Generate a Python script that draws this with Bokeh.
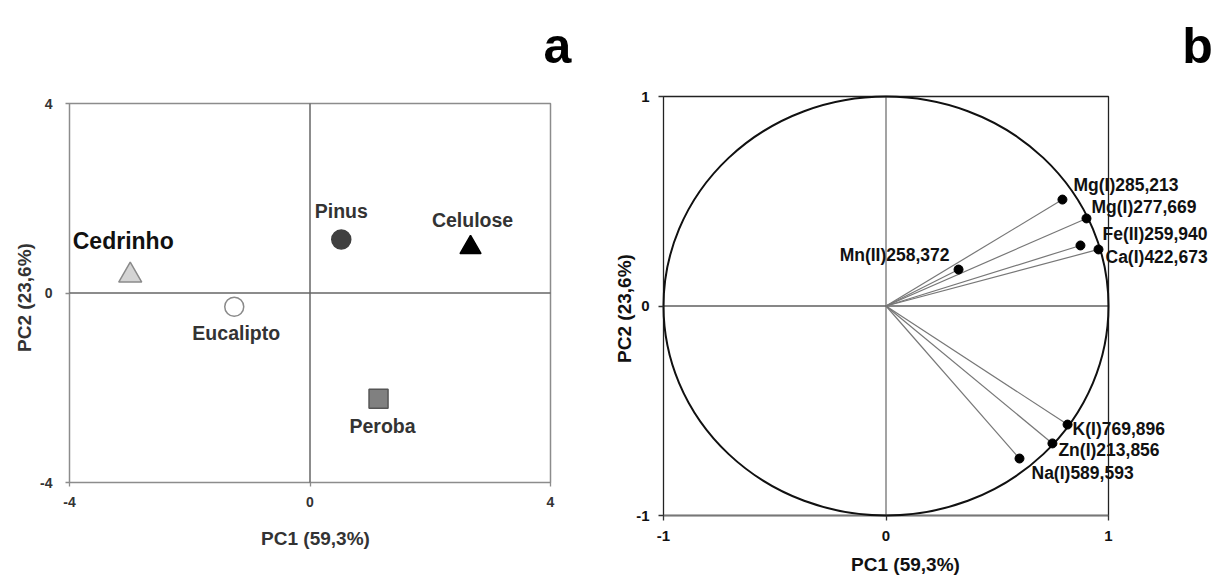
import math
from bokeh.plotting import figure
from bokeh.models import Range1d, FixedTicker, ColumnDataSource, PrintfTickFormatter
from bokeh.layouts import row
from bokeh.embed import file_html
from bokeh.resources import INLINE
from bokeh.core.properties import value

FONT = "Liberation Sans"

# ---------------- data: panel a (scores) ----------------
samples = ["Cedrinho", "Eucalipto", "Pinus", "Celulose", "Peroba"]
score_pc1 = [-2.99, -1.26, 0.52, 2.67, 1.14]
score_pc2 = [0.37, -0.29, 1.13, 0.96, -2.23]
a_ticks = [-4, 0, 4]

# ---------------- data: panel b (loadings) ----------------
variables = ["Mg(I)285,213", "Mg(I)277,669", "Fe(II)259,940", "Ca(I)422,673",
             "Mn(II)258,372", "K(I)769,896", "Zn(I)213,856", "Na(I)589,593"]
load_pc1 = [0.793, 0.901, 0.874, 0.955, 0.326, 0.816, 0.748, 0.600]
load_pc2 = [0.508, 0.418, 0.289, 0.270, 0.174, -0.566, -0.656, -0.728]
b_ticks = [-1, 0, 1]

xlab = "PC1 (59,3%)"
ylab = "PC2 (23,6%)"

# ---------------- styles / layout (not data) ----------------
H = 577
a_markers = ["triangle", "circle", "circle", "triangle", "square"]
a_fill = ["#d4d4d4", "#ffffff", "#404040", "#000000", "#808080"]
a_line = ["#8a8a8a", "#8a8a8a", "#404040", "#000000", "#555555"]
a_size = [23, 19, 19, 21, 19]
a_label_dx = [-7, 2, 0, 2, 4]
a_label_dy = [-34, 26, -28, -28, 27]
a_label_size = ["23px", "19.5px", "19.5px", "19.5px", "19.5px"]
a_label_color = ["#111111", "#333333", "#333333", "#333333", "#333333"]

b_label_dx = [11, 5, 22, 7, -9, 5, 6, 12]
b_label_dy = [-15, -11, -11, 8, -15, 4, 7, 14]
b_label_align = ["left", "left", "left", "left", "right", "left", "left", "left"]

# pixel geometry of the boxed plot areas (figure coordinates, y downward)
A_W, A_L, A_R, A_T, A_B = 608, 69, 550, 103, 482
B_W, B_L, B_R, B_T, B_B = 604, 55, 500, 96, 515


class Geo:
    def __init__(self, ticks, W, L, R, T, B):
        self.lo, self.hi = ticks[0], ticks[-1]
        self.L, self.B = L, B
        self.xpx = (R - L) / (self.hi - self.lo)
        self.ypx = (B - T) / (self.hi - self.lo)
        self.xr = Range1d(self.X(0), self.X(W))
        self.yr = Range1d(self.Y(H), self.Y(0))

    def X(self, px):
        return self.lo + (px - self.L) / self.xpx

    def Y(self, py):
        return self.lo + (self.B - py) / self.ypx


def make_fig(g, W, ticks, tick_size, tick_color, tick_line, tick_std_x, tick_std_y, tick_out):
    p = figure(width=W, height=H, x_range=g.xr, y_range=g.yr,
               output_backend="svg", toolbar_location=None,
               min_border_left=0, min_border_right=0, min_border_top=0, min_border_bottom=0)
    p.grid.visible = False
    p.outline_line_color = None
    for ax in (p.xaxis[0], p.yaxis[0]):
        ax.fixed_location = g.lo
        ax.ticker = FixedTicker(ticks=ticks)
        ax.formatter = PrintfTickFormatter(format="%d")
        ax.minor_tick_line_color = None
        ax.major_tick_in = 0
        ax.major_tick_out = tick_out
        ax.major_tick_line_color = tick_line
        ax.major_tick_line_width = 1.3
        ax.axis_line_color = None
        ax.major_label_text_font = FONT
        ax.major_label_text_font_style = "bold"
        ax.major_label_text_font_size = tick_size
        ax.major_label_text_color = tick_color
    p.xaxis[0].major_label_standoff = tick_std_x
    p.yaxis[0].major_label_standoff = tick_std_y
    return p


def axis_titles(p, g, color, xpos, ypos):
    p.text(x=[g.X(xpos[0])], y=[g.Y(xpos[1])], text=[xlab], text_font=value(FONT),
           text_font_style="bold", text_font_size="19px", text_color=color,
           text_align="center", text_baseline="middle")
    p.text(x=[g.X(ypos[0])], y=[g.Y(ypos[1])], text=[ylab], angle=math.pi / 2,
           text_font=value(FONT), text_font_style="bold", text_font_size="19px",
           text_color=color, text_align="center", text_baseline="middle")


# ---------------- panel a ----------------
ga = Geo(a_ticks, A_W, A_L, A_R, A_T, A_B)
pa = make_fig(ga, A_W, a_ticks, "14px", "#333333", "#8c8c8c", 10, 13, 4)
lo, hi = ga.lo, ga.hi
pa.quad(left=lo, right=hi, bottom=lo, top=hi, fill_color=None, line_color="#8c8c8c", line_width=1.5)
pa.segment(x0=[lo, 0], y0=[0, lo], x1=[hi, 0], y1=[0, hi], line_color="#666666", line_width=1.5)

src_a = ColumnDataSource(dict(x=score_pc1, y=score_pc2, name=samples, marker=a_markers,
                              fill=a_fill, line=a_line, size=a_size,
                              dx=a_label_dx, dy=a_label_dy, fs=a_label_size, tc=a_label_color))
pa.scatter(x="x", y="y", marker="marker", size="size", fill_color="fill", line_color="line",
           line_width=1.5, source=src_a)
pa.text(x="x", y="y", text="name", x_offset="dx", y_offset="dy", source=src_a,
        text_font=value(FONT), text_font_style="bold", text_font_size="fs",
        text_color="tc", text_align="center", text_baseline="middle")
axis_titles(pa, ga, "#333333", (315, 538), (24, 297))
pa.text(x=[ga.X(557)], y=[ga.Y(45)], text=["a"],
        text_font=value(FONT), text_font_style="bold", text_font_size="50px",
        text_color="#000000", text_align="center", text_baseline="alphabetic")

# ---------------- panel b ----------------
gb = Geo(b_ticks, B_W, B_L, B_R, B_T, B_B)
pb = make_fig(gb, B_W, b_ticks, "15px", "#111111", "#333333", 10, 9, 5)
lo, hi = gb.lo, gb.hi
pb.quad(left=lo, right=hi, bottom=lo, top=hi, fill_color=None, line_color="#222222", line_width=1.3)
pb.segment(x0=[lo], y0=[lo], x1=[hi], y1=[lo], line_color="#777777", line_width=1.5)
pb.segment(x0=[lo], y0=[0], x1=[hi], y1=[0], line_color="#111111", line_width=1.2)
pb.segment(x0=[0], y0=[lo], x1=[0], y1=[hi], line_color="#666666", line_width=1.2)

pb.ellipse(x=0, y=0, width=2, height=2, fill_color=None, line_color="#111111", line_width=2)

src_b = ColumnDataSource(dict(x=load_pc1, y=load_pc2, name=variables,
                              dx=b_label_dx, dy=b_label_dy, al=b_label_align))
pb.segment(x0=0, y0=0, x1="x", y1="y", source=src_b, line_color="#777777", line_width=1.2)
pb.scatter(x="x", y="y", size=9, fill_color="#000000", line_color="#000000", source=src_b)
pb.text(x="x", y="y", text="name", x_offset="dx", y_offset="dy", source=src_b,
        text_font=value(FONT), text_font_style="bold", text_font_size="17.5px",
        text_color="#111111", text_align="al", text_baseline="middle")
axis_titles(pb, gb, "#111111", (905 - A_W, 564), (624 - A_W, 308))
pb.text(x=[gb.X(1197 - A_W)], y=[gb.Y(45)], text=["b"],
        text_font=value(FONT), text_font_style="bold", text_font_size="50px",
        text_color="#000000", text_align="center", text_baseline="alphabetic")

layout = row(pa, pb)
open("out.html", "w").write(file_html(layout, INLINE))
